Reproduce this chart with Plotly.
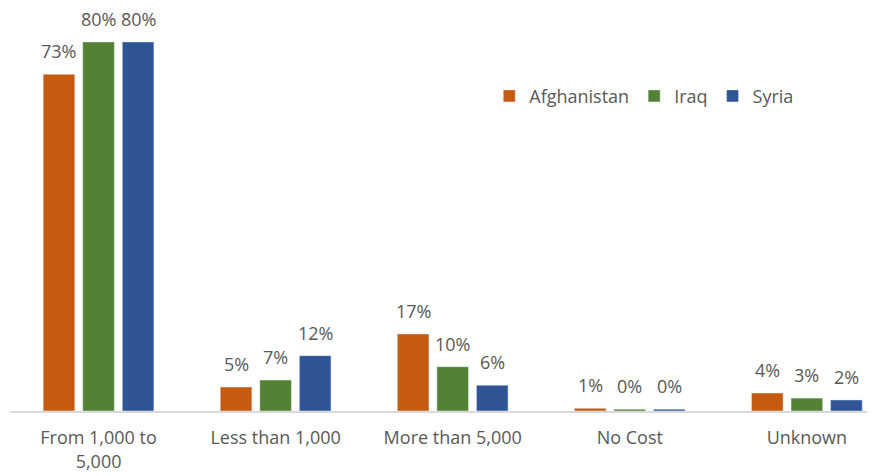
import plotly.graph_objects as go

categories = ["From 1,000 to<br>5,000", "Less than 1,000", "More than 5,000", "No Cost", "Unknown"]
afghanistan = [73, 5.2, 16.7, 0.6, 3.9]
iraq = [80, 6.7, 9.6, 0.4, 2.8]
syria = [80, 12, 5.6, 0.4, 2.4]

series = [
    ("Afghanistan", afghanistan, "#C55A11"),
    ("Iraq", iraq, "#538135"),
    ("Syria", syria, "#2F5597"),
]

FONT = "Open Sans, Roboto, sans-serif"
GREY = "#595959"

W, H = 875, 476
ML, MR, MT, MB = 2, 0, 3, 73
XMAX = 4.43
BARGAP = 0.33

fig = go.Figure()
for name, vals, color in series:
    fig.add_trace(go.Bar(
        name=name,
        x=categories,
        y=vals,
        marker=dict(color=color),
    ))

# value labels sit well above the bars, as in the original
cat_px = (W - ML - MR) / (XMAX + 0.5)
slot_px = cat_px * (1 - BARGAP) / len(series)
for i, (name, vals, color) in enumerate(series):
    for cat, v in zip(categories, vals):
        fig.add_annotation(
            x=cat, y=v, text="%.0f%%" % v,
            showarrow=False, yanchor="bottom",
            xshift=(i - 1) * slot_px, yshift=10, borderpad=0,
            font=dict(family=FONT, size=18, color=GREY),
        )

fig.update_layout(
    width=W,
    height=H,
    margin=dict(l=ML, r=MR, t=MT, b=MB),
    plot_bgcolor="white",
    paper_bgcolor="white",
    barmode="group",
    bargap=BARGAP,
    bargroupgap=0.2,
    font=dict(family=FONT, size=18, color=GREY),
    legend=dict(
        orientation="h",
        x=0.549, y=0.787,
        xanchor="left", yanchor="middle",
        font=dict(family=FONT, size=18, color=GREY),
        itemwidth=30,
    ),
)
fig.update_xaxes(
    range=[-0.5, XMAX],
    showline=True, linecolor="#D9D9D9", linewidth=1.5,
    ticks="", ticklabelstandoff=10,
    tickfont=dict(family=FONT, size=18, color=GREY),
)
fig.update_yaxes(range=[0, 86.7], visible=False, showgrid=False)

fig.write_html("out.html")
